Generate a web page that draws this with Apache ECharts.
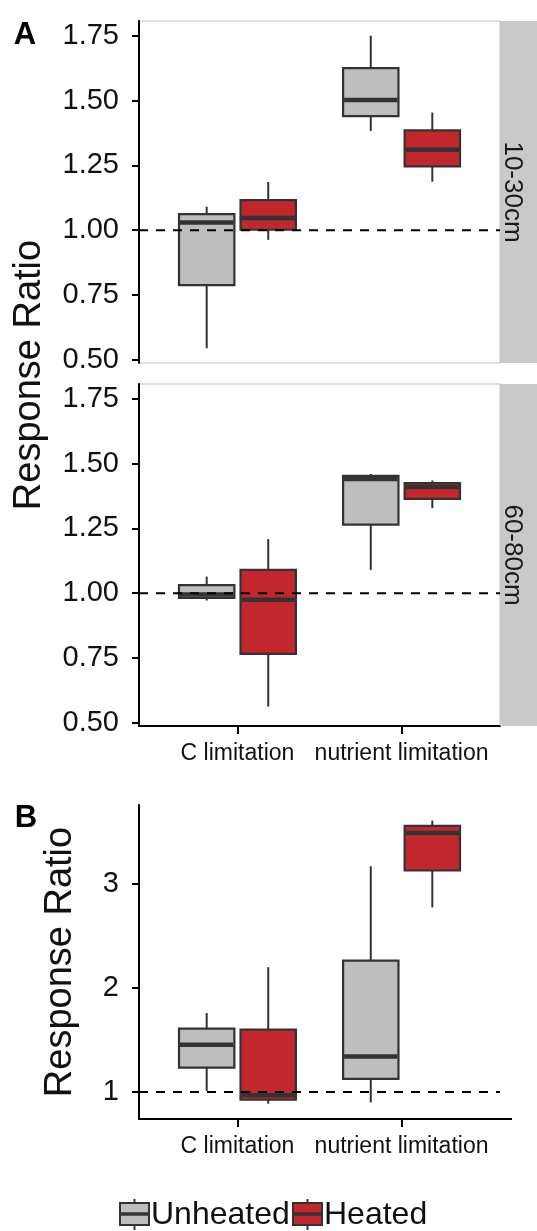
<!DOCTYPE html>
<html>
<head>
<meta charset="utf-8">
<script src="https://cdn.jsdelivr.net/npm/echarts@6/dist/echarts.min.js"></script>
<style>
  html, body { margin: 0; padding: 0; background: #fff; }
  #chart { width: 537px; height: 1231px; }
</style>
</head>
<body>
<div id="chart"></div>
<script>
// Categories and groups
const categories = ['C limitation', 'nutrient limitation'];
const treatments = ['Unheated', 'Heated'];
const depthLabels = ['10-30cm', '60-80cm'];

// Box statistics per category: [lower whisker, Q1, median, Q3, upper whisker]
const shallowUnheated = [[0.545, 0.788, 1.030, 1.062, 1.091], [1.383, 1.440, 1.502, 1.625, 1.750]];
const shallowHeated   = [[0.963, 1.002, 1.047, 1.116, 1.186], [1.187, 1.246, 1.310, 1.385, 1.454]];
const deepUnheated    = [[0.972, 0.982, 0.995, 1.031, 1.064], [1.090, 1.265, 1.441, 1.453, 1.460]];
const deepHeated      = [[0.563, 0.766, 0.975, 1.090, 1.209], [1.328, 1.364, 1.410, 1.425, 1.435]];
const totalUnheated   = [[1.010, 1.235, 1.455, 1.610, 1.760], [0.900, 1.125, 1.342, 2.263, 3.170]];
const totalHeated     = [[0.887, 0.925, 0.968, 1.600, 2.200], [2.775, 3.130, 3.490, 3.560, 3.610]];

// Axis ticks
const ratioTicksA = [0.5, 0.75, 1, 1.25, 1.5, 1.75];
const ratioTicksB = [1, 2, 3];
const referenceRatio = 1;

// Styling
const FONT = '"Liberation Sans", Arial, Helvetica, sans-serif';
const EDGE = '#333333';
const FILLS = ['#bebebe', '#c1272d'];
const DODGE = 0.1875;      // half the dodge distance in category units
const BOX_WIDTH = 0.3375;  // box width in category units
const X_MIN = 0.4, X_MAX = 2.6;

const chart = echarts.init(document.getElementById('chart'), null, { renderer: 'canvas' });

function boxRender(params, api) {
  const x = api.value(0);
  const lo = api.coord([x, api.value(1)]);
  const q1 = api.coord([x, api.value(2)]);
  const md = api.coord([x, api.value(3)]);
  const q3 = api.coord([x, api.value(4)]);
  const hi = api.coord([x, api.value(5)]);
  const w = api.size([BOX_WIDTH, 0])[0];
  const cx = lo[0];
  const left = cx - w / 2;
  const fill = api.visual('color');
  return {
    type: 'group',
    children: [
      { type: 'line', shape: { x1: cx, y1: hi[1], x2: cx, y2: q3[1] }, style: { stroke: EDGE, lineWidth: 2 } },
      { type: 'line', shape: { x1: cx, y1: q1[1], x2: cx, y2: lo[1] }, style: { stroke: EDGE, lineWidth: 2 } },
      { type: 'rect', shape: { x: left, y: q3[1], width: w, height: q1[1] - q3[1] },
        style: { fill: fill, stroke: EDGE, lineWidth: 2.2 } },
      { type: 'line', shape: { x1: left + 1, y1: md[1], x2: left + w - 1, y2: md[1] },
        style: { stroke: EDGE, lineWidth: 4.5 } }
    ]
  };
}

function boxSeries(name, stats, groupIdx, axisIdx) {
  const offset = groupIdx === 0 ? -DODGE : DODGE;
  return {
    name: name,
    type: 'custom',
    xAxisIndex: axisIdx,
    yAxisIndex: axisIdx,
    itemStyle: { color: FILLS[groupIdx] },
    encode: { x: 0, y: [1, 2, 3, 4, 5] },
    data: stats.map((s, i) => [i + 1 + offset].concat(s)),
    renderItem: boxRender,
    silent: true,
    z: 2
  };
}

function refLine(axisIdx) {
  return {
    type: 'line',
    xAxisIndex: axisIdx,
    yAxisIndex: axisIdx,
    data: [[X_MIN, referenceRatio], [X_MAX, referenceRatio]],
    symbol: 'none',
    silent: true,
    lineStyle: { color: '#000', width: 2, type: [9, 8] },
    z: 5
  };
}

function xAxisFor(gridIndex, showAxis) {
  return {
    type: 'value', gridIndex, min: X_MIN, max: X_MAX,
    axisLine: { show: showAxis, onZero: false, lineStyle: { color: '#000', width: 2 } },
    axisTick: { show: showAxis, length: 8, lineStyle: { color: '#000', width: 2 }, customValues: [1, 2] },
    axisLabel: {
      show: showAxis, customValues: [1, 2], margin: 16,
      formatter: v => categories[Math.round(v) - 1],
      fontSize: 23, color: '#111', fontFamily: FONT
    },
    splitLine: { show: false }
  };
}

function yAxisFor(gridIndex, min, max, ticks, digits) {
  return {
    type: 'value', gridIndex, min, max,
    axisLine: { show: true, onZero: false, lineStyle: { color: '#000', width: 2 } },
    axisTick: { show: true, length: 7, lineStyle: { color: '#000', width: 2 }, customValues: ticks },
    axisLabel: {
      customValues: ticks, margin: 20,
      formatter: v => Number(v).toFixed(digits),
      fontSize: 29, color: '#111', fontFamily: FONT
    },
    splitLine: { show: false }
  };
}

const panelBorder = { show: true, borderColor: '#d6d6d6', borderWidth: 1.5, backgroundColor: 'transparent' };

const grids = [
  Object.assign({ left: 139, right: 37, top: 21, height: 342 }, panelBorder),
  Object.assign({ left: 139, right: 37, top: 384, height: 342 }, panelBorder),
  { left: 139, right: 37, top: 805, height: 314, show: false }
];

function stripGraphic(label, top, height) {
  return [
    { type: 'rect', shape: { x: 500, y: top, width: 40, height: height }, style: { fill: '#c9c9c9' }, z: 1 },
    { type: 'text', x: 512, y: top + height / 2, rotation: -Math.PI / 2,
      style: { text: label, fontSize: 26, fontFamily: FONT, fill: '#1a1a1a', align: 'center', verticalAlign: 'middle' }, z: 2 }
  ];
}

function legendGraphic() {
  const items = [];
  let x = 120;
  const top = 1203, h = 22, w = 29, mid = top + h / 2;
  treatments.forEach((t, i) => {
    const cx = x + w / 2;
    items.push(
      { type: 'line', shape: { x1: cx, y1: top - 4, x2: cx, y2: top + h + 5 }, style: { stroke: EDGE, lineWidth: 2 } },
      { type: 'rect', shape: { x: x, y: top, width: w, height: h }, style: { fill: FILLS[i], stroke: EDGE, lineWidth: 2 } },
      { type: 'line', shape: { x1: x + 1, y1: mid, x2: x + w - 1, y2: mid }, style: { stroke: EDGE, lineWidth: 3.5 } },
      { type: 'text', x: x + w + 2, y: mid + 1,
        style: { text: t, fontSize: 32, fontFamily: FONT, fill: '#111', align: 'left', verticalAlign: 'middle' } }
    );
    x += w + 2 + (i === 0 ? 142 : 110);
  });
  return items;
}

const graphics = [].concat(
  stripGraphic(depthLabels[0], 21, 342),
  stripGraphic(depthLabels[1], 384, 342),
  [
    { type: 'text', x: 25, y: 35, style: { text: 'A', fontSize: 31, fontWeight: 'bold', fontFamily: FONT, fill: '#000', align: 'center', verticalAlign: 'middle' } },
    { type: 'text', x: 26, y: 818, style: { text: 'B', fontSize: 31, fontWeight: 'bold', fontFamily: FONT, fill: '#000', align: 'center', verticalAlign: 'middle' } },
    { type: 'text', x: 30, y: 375, rotation: Math.PI / 2,
      style: { text: 'Response Ratio', fontSize: 38, fontFamily: FONT, fill: '#111', align: 'center', verticalAlign: 'middle' } },
    { type: 'text', x: 61, y: 962, rotation: Math.PI / 2,
      style: { text: 'Response Ratio', fontSize: 38, fontFamily: FONT, fill: '#111', align: 'center', verticalAlign: 'middle' } },
    // x axis line of panel B runs a little past the plotting area
    { type: 'line', shape: { x1: 499, y1: 1119, x2: 512, y2: 1119 }, style: { stroke: '#000', lineWidth: 2 } }
  ],
  legendGraphic()
);

chart.setOption({
  animation: false,
  backgroundColor: '#fff',
  grid: grids,
  xAxis: [xAxisFor(0, false), xAxisFor(1, true), xAxisFor(2, true)],
  yAxis: [
    yAxisFor(0, 0.488, 1.807, ratioTicksA, 2),
    yAxisFor(1, 0.488, 1.807, ratioTicksA, 2),
    yAxisFor(2, 0.74, 3.76, ratioTicksB, 0)
  ],
  series: [
    boxSeries(treatments[0], shallowUnheated, 0, 0),
    boxSeries(treatments[1], shallowHeated, 1, 0),
    refLine(0),
    boxSeries(treatments[0], deepUnheated, 0, 1),
    boxSeries(treatments[1], deepHeated, 1, 1),
    refLine(1),
    boxSeries(treatments[0], totalUnheated, 0, 2),
    boxSeries(treatments[1], totalHeated, 1, 2),
    refLine(2)
  ],
  graphic: graphics
});
</script>
</body>
</html>
